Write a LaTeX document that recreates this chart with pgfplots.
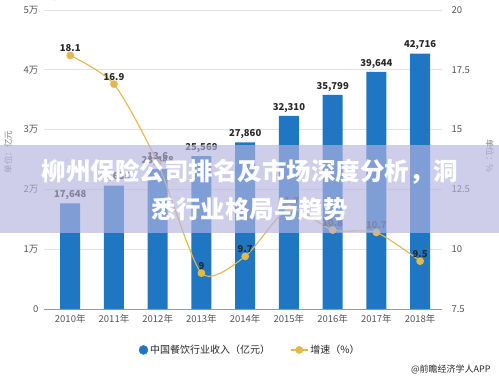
\documentclass[border=0pt]{standalone}
\usepackage{pgfplots}
\pgfplotsset{compat=1.18}
\usepackage{fontspec}
\setmainfont{Noto Sans CJK SC}
\definecolor{barblue}{RGB}{31,119,196}
\definecolor{gold}{RGB}{228,184,76}
\definecolor{gridgray}{RGB}{226,226,226}
\definecolor{ticktext}{RGB}{85,85,85}
\definecolor{labeltext}{RGB}{40,40,40}
\definecolor{bandcol}{RGB}{180,180,225}
\begin{document}
\begin{tikzpicture}
\path[use as bounding box, fill=white] (0,0) rectangle (499pt,379pt);
\begin{axis}[
  at={(44pt,70pt)}, anchor=south west, scale only axis,
  width=398pt, height=299pt,
  xmin=-0.6, xmax=8.5, ymin=0, ymax=50000,
  axis y line*=left, axis x line*=bottom,
  y axis line style={draw=none},
  x axis line style={draw=gray!80, -},
  ytick={0,10000,20000,30000,40000,50000},
  yticklabels={0,1万,2万,3万,4万,5万},
  xtick={0,...,8},
  xticklabels={2010年,2011年,2012年,2013年,2014年,2015年,2016年,2017年,2018年},
  ymajorgrids, grid style={gridgray, line width=0.8pt},
  major tick length=0pt,
  tick label style={font=\fontsize{9.5}{10}\selectfont, text=ticktext},
  xticklabel style={yshift=-2pt},
  yticklabel style={xshift=-2pt},
  /pgf/number format/assume math mode=true,
  /pgf/number format/1000 sep={,},
  clip=false,
]
\addplot[ybar, bar width=20pt, fill=barblue, draw=none,
  nodes near coords,
  every node near coord/.append style={font=\bfseries\fontsize{9.5}{10}\selectfont, text=labeltext}]
  coordinates {(0,17648) (1,20635) (2,23448) (3,25569) (4,27860) (5,32310) (6,35799) (7,39644) (8,42716)};
\end{axis}
\begin{axis}[
  at={(44pt,70pt)}, anchor=south west, scale only axis,
  width=398pt, height=299pt,
  xmin=-0.6, xmax=8.5, ymin=7.5, ymax=20,
  axis y line*=right, axis x line=none,
  y axis line style={draw=none},
  ytick={7.5,10,12.5,15,17.5,20},
  yticklabels={7.5,10,12.5,15,17.5,20},
  major tick length=0pt,
  tick label style={font=\fontsize{9.5}{10}\selectfont, text=ticktext},
  yticklabel style={xshift=6pt},
  /pgf/number format/assume math mode=true,
  clip=false,
  legend style={at={(0.518,-0.137)}, anchor=center, draw=none, fill=none,
    legend columns=2, font=\fontsize{10}{11}\selectfont, text=labeltext,
    /tikz/every even column/.append style={column sep=18pt}},
]
\addlegendimage{legend image code/.code={\fill[barblue] (0.45em,0) circle (4.5pt);}}
\addlegendentry{中国餐饮行业收入（亿元）}
\addplot[gold, line width=1.1pt, smooth, tension=0.42, mark=*, mark size=3.3pt,
  mark options={fill=gold, draw=gold},
  point meta=explicit symbolic, nodes near coords,
  every node near coord/.append style={font=\bfseries\fontsize{9.5}{10}\selectfont, text=labeltext, yshift=0pt}]
  coordinates {(0,18.1)[18.1] (1,16.9)[16.9] (2,13.6)[13.6] (3,9.0)[9] (4,9.7)[9.7] (5,11.7)[11.7] (6,10.8)[10.8] (7,10.7)[10.7] (8,9.5)[9.5]};
\addlegendentry{增速（\%）}
\end{axis}
\node[rotate=90, font=\fontsize{8.5}{9}\selectfont, text=gray] at (8pt,227pt) {单位：亿元};
\node[rotate=-90, font=\fontsize{8.5}{9}\selectfont, text=gray] at (490pt,223pt) {单位：\%};
\node[anchor=east, font=\fontsize{9}{10}\selectfont, text=labeltext] at (494pt,10pt) {@前瞻经济学人APP};
\fill[bandcol, opacity=0.65] (0,146pt) rectangle (499pt,234pt);
\node[text=white, font=\bfseries\fontsize{24.5}{38}\selectfont, align=center] at (250pt,189pt)
  {柳州保险公司排名及市场深度分析，洞\\悉行业格局与趋势};
\end{tikzpicture}
\end{document}
